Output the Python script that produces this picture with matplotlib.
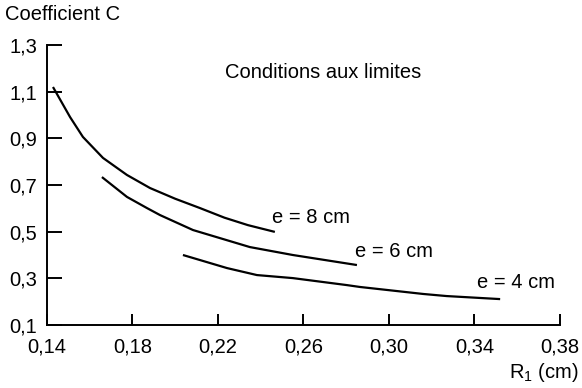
import matplotlib
matplotlib.use("Agg")
import matplotlib.pyplot as plt
from matplotlib.ticker import FixedLocator, FuncFormatter

plt.rcParams['font.family'] = ['Liberation Sans', 'DejaVu Sans']
plt.rcParams['mathtext.fontset'] = 'custom'
plt.rcParams['mathtext.rm'] = 'Liberation Sans'
plt.rcParams['mathtext.it'] = 'Liberation Sans:italic'

# Data
r_e8 = [0.1428, 0.1508, 0.1568, 0.1662, 0.1774, 0.1882, 0.2000, 0.2116, 0.2230, 0.2340, 0.2466]
c_e8 = [1.120, 0.991, 0.906, 0.816, 0.743, 0.687, 0.641, 0.601, 0.560, 0.528, 0.499]

r_e6 = [0.1657, 0.1774, 0.1868, 0.1929, 0.2083, 0.2349, 0.2550, 0.2850]
c_e6 = [0.734, 0.649, 0.601, 0.571, 0.507, 0.434, 0.400, 0.357]

r_e4 = [0.2036, 0.2242, 0.2382, 0.2550, 0.2803, 0.2864, 0.3160, 0.3270, 0.3520]
c_e4 = [0.400, 0.344, 0.314, 0.301, 0.271, 0.263, 0.233, 0.224, 0.211]

x_ticks = [0.14, 0.18, 0.22, 0.26, 0.30, 0.34, 0.38]
y_ticks = [0.1, 0.3, 0.5, 0.7, 0.9, 1.1, 1.3]
curve_labels = ["e = 8 cm", "e = 6 cm", "e = 4 cm"]

fs = 14.5
fig = plt.figure(figsize=(5.82, 3.88), dpi=100)
ax = fig.add_axes([47/582, 1-325/388, (560-47)/582, (325-45)/388])

for r, c in [(r_e8, c_e8), (r_e6, c_e6), (r_e4, c_e4)]:
    ax.plot(r, c, color='black', lw=1.6, solid_capstyle='butt')

ax.set_xlim(0.14, 0.38)
ax.set_ylim(0.1, 1.3)
for s in ['top', 'right']:
    ax.spines[s].set_visible(False)
for s in ['left', 'bottom']:
    ax.spines[s].set_linewidth(1.4)

fmt = FuncFormatter(lambda v, p: f"{v:.2f}".replace('.', ','))
fmty = FuncFormatter(lambda v, p: f"{v:.1f}".replace('.', ','))
ax.xaxis.set_major_locator(FixedLocator(x_ticks))
ax.yaxis.set_major_locator(FixedLocator(y_ticks))
ax.xaxis.set_major_formatter(fmt)
ax.yaxis.set_major_formatter(fmty)
ax.tick_params(axis='x', direction='in', length=8, width=1.4, pad=9, labelsize=fs)
ax.tick_params(axis='y', direction='in', length=11, width=1.4, pad=7, labelsize=fs)

ax.text(0.2452, 0.5586, curve_labels[0], fontsize=fs, va='center', ha='left')
ax.text(0.2841, 0.413, curve_labels[1], fontsize=fs, va='center', ha='left')
ax.text(0.3411, 0.280, curve_labels[2], fontsize=fs, va='center', ha='left')

fig.text(323/582, 1-72/388, "Conditions aux limites", fontsize=fs, ha='center', va='center')
fig.text(5/582, 1-15/388, "Coefficient C", fontsize=fs, ha='left', va='center')
fig.text(579/582, 1-373/388, r"$\mathregular{R_1}$ (cm)", fontsize=fs, ha='right', va='center')

fig.savefig("out.png", dpi=100)
